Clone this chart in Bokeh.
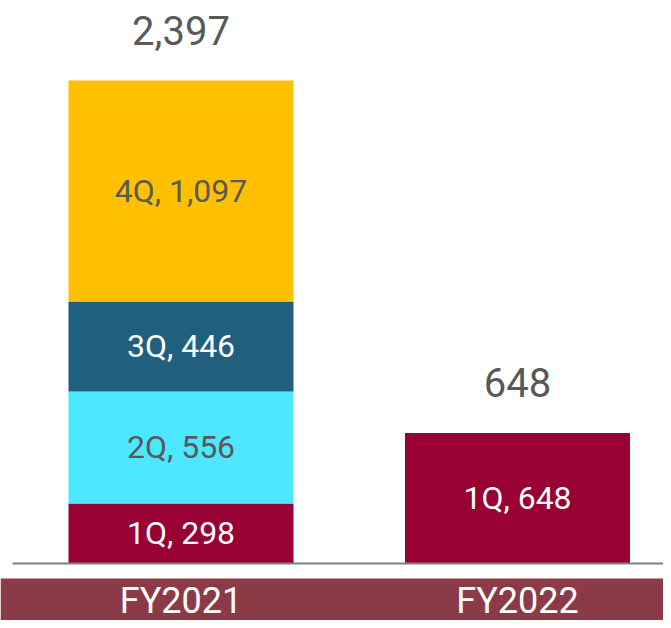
from bokeh.plotting import figure
from bokeh.models import Range1d, BoxAnnotation, ColumnDataSource
from bokeh.core.properties import value
from bokeh.embed import file_html
from bokeh.resources import INLINE

# ---- data ----
years = ["FY2021", "FY2022"]
quarters = ["1Q", "2Q", "3Q", "4Q"]
q1 = [298, 648]
q2 = [556, 0]
q3 = [446, 0]
q4 = [1097, 0]

colors = ["#990033", "#4DE8FF", "#215F7E", "#FFC000"]
label_colors = ["#FFFFFF", "#595959", "#FFFFFF", "#595959"]
FONT = "Roboto"

W, H = 663, 620
scale = 483 / 2397.0          # px per unit
base_px = 563                  # baseline pixel from top
px_per_cat = 336.5
x0_px = 180.5

y_end = base_px / scale
y_start = -(H - base_px) / scale
x_start = -x0_px / px_per_cat
x_end = x_start + W / px_per_cat

p = figure(width=W, height=H, output_backend="svg", toolbar_location=None,
           x_range=Range1d(x_start, x_end), y_range=Range1d(y_start, y_end),
           min_border=0, outline_line_color=None)
p.axis.visible = False
p.grid.visible = False
p.background_fill_color = "white"
p.border_fill_color = "white"

xs = list(range(len(years)))
series = [q1, q2, q3, q4]
data = {"x": xs}
for q, s in zip(quarters, series):
    data[q] = s
src = ColumnDataSource(data)
p.vbar_stack(quarters, x="x", width=225 / px_per_cat, color=colors, source=src,
             line_color=None)

# segment labels
lx, ly, lt, lc = [], [], [], []
for i, x in enumerate(xs):
    cum = 0
    for q, s, c in zip(quarters, series, label_colors):
        v = s[i]
        if v > 0:
            lx.append(x)
            ly.append(cum + v / 2)
            lt.append(f"{q}, {v:,}")
            lc.append(c)
        cum += v
p.text(x=lx, y=ly, text=lt, text_color=lc, text_align="center",
       text_baseline="middle", text_font=value(FONT), text_font_size="32px")

# totals
totals = [sum(s[i] for s in series) for i in range(len(years))]
p.text(x=xs, y=totals, text=[f"{t:,}" for t in totals], text_color="#595959",
       text_align="center", text_baseline="middle", y_offset=-50,
       text_font=value(FONT), text_font_size="40px")

# baseline (starts slightly in from the left edge)
p.segment(x0=[x_start + 12 / px_per_cat], x1=[x_end], y0=[0], y1=[0],
          line_color="#808080", line_width=2)

# category band
band_top = -(578 - base_px) / scale
p.add_layout(BoxAnnotation(top=band_top, fill_color="#8C3A47", fill_alpha=1,
                           line_color=None, level="underlay"))
band_label_y = -(600 - base_px) / scale
p.text(x=xs, y=[band_label_y] * len(xs), text=years, text_color="#FFFFFF",
       text_align="center", text_baseline="middle",
       text_font=value(FONT), text_font_size="36px")

open("out.html", "w").write(file_html(p, INLINE))
